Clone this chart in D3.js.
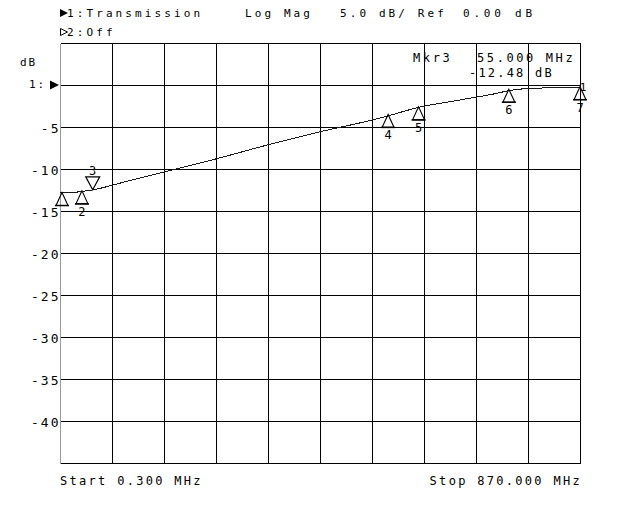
<!DOCTYPE html>
<html>
<head>
<meta charset="utf-8">
<script src="https://cdn.jsdelivr.net/npm/d3@7"></script>
<style>
  html, body { margin: 0; padding: 0; background: #fff; }
  svg { display: block; }
  text { font-family: "DejaVu Sans Mono", "Liberation Mono", monospace; fill: #000; }
</style>
</head>
<body>
<script>
// ---- data ----
const freqMHz = [0.3, 20, 38, 55, 100, 176, 263, 348, 435, 522, 549, 602, 650, 694, 720, 753, 781, 820, 860, 870];
const transDB = [-12.78, -12.74, -12.6, -12.42, -11.62, -10.25, -8.69, -7.05, -5.5, -4.1, -3.6, -2.55, -1.95, -1.4, -1.08, -0.58, -0.36, -0.28, -0.24, -0.28];
const yTickValues = [-5, -10, -15, -20, -25, -30, -35, -40];
const markerIds = ["1", "2", "3", "4", "5", "6", "7"];
const markerFreqs = [0.3, 37, 55, 549, 600, 751, 870];
const markerDB = [-12.8, -12.6, -12.48, -3.5, -2.6, -0.5, -0.2];
const activeMarker = "3";
const startLabel = "Start 0.300 MHz";
const stopLabel = "Stop 870.000 MHz";
const headerTexts = ["1:Transmission", "Log Mag", "5.0 dB/ Ref", "0.00 dB"];
const channel2Text = "2:Off";
const readoutLines = ["Mkr3", "55.000 MHz", "-12.48 dB"];

// ---- layout ----
const W = 640, H = 512;
const svg = d3.select("body").append("svg").attr("width", W).attr("height", H);

const x = d3.scaleLinear().domain([0.3, 870]).range([60, 580]);
const y = d3.scaleLinear().domain([-45, 5]).range([463, 43]);

const g = svg.append("g").attr("transform", "translate(0.5,0.5)");

// grid
const xGrid = d3.range(11).map(i => 0.3 + i * (870 - 0.3) / 10);
const yGrid = d3.range(-45, 5.01, 5);

g.selectAll("line.h").data(yGrid).join("line")
  .attr("x1", x(0.3)).attr("x2", x(870))
  .attr("y1", d => Math.round(y(d))).attr("y2", d => Math.round(y(d)))
  .attr("stroke", "#000").attr("stroke-width", 1).attr("shape-rendering", "crispEdges");

g.selectAll("line.v").data(xGrid).join("line")
  .attr("x1", d => Math.round(x(d))).attr("x2", d => Math.round(x(d)))
  .attr("y1", y(5)).attr("y2", y(-45))
  .attr("stroke", (d, i) => i === 0 ? "#999" : "#000")
  .attr("stroke-width", 1).attr("shape-rendering", "crispEdges");

// trace
const line = d3.line()
  .x((d, i) => x(freqMHz[i]))
  .y((d, i) => y(transDB[i]))
  .curve(d3.curveMonotoneX);
g.append("path").datum(transDB)
  .attr("d", line)
  .attr("fill", "none").attr("stroke", "#1a1a1a").attr("stroke-width", 1)
  .attr("shape-rendering", "crispEdges");

// y tick labels
const yAxis = svg.append("g");
yAxis.selectAll("text").data(yTickValues).join("text")
  .attr("x", 60.5).attr("y", d => y(d) + 5.5)
  .attr("text-anchor", "end")
  .attr("font-size", 13).attr("letter-spacing", 2)
  .text(d => "-" + Math.abs(d));

// "dB" and reference label
svg.append("text").attr("x", 20).attr("y", 66).attr("font-size", 11).attr("letter-spacing", 2).text("dB");
svg.append("text").attr("x", 29).attr("y", 88).attr("font-size", 11).attr("letter-spacing", 2).text("1:");
svg.append("path")
  .attr("d", `M50,${y(0) - 4.5}L59,${y(0)}L50,${y(0) + 4.5}Z`)
  .attr("fill", "#000");

// header
svg.append("path").attr("d", "M60,9L68,13L60,17Z").attr("fill", "#000");
const hdrX = [67, 245, 340, 463];
svg.selectAll("text.hdr").data(headerTexts).join("text")
  .attr("class", "hdr")
  .attr("x", (d, i) => hdrX[i]).attr("y", 17)
  .attr("font-size", 11).attr("letter-spacing", (d, i) => i === 3 ? 3.8 : 3.1)
  .text(d => d);
svg.append("path").attr("d", "M60.5,28.5L67.5,32L60.5,35.5Z").attr("fill", "none").attr("stroke", "#000").attr("stroke-width", 1);
svg.append("text").attr("x", 67).attr("y", 36).attr("font-size", 11).attr("letter-spacing", 3.1).text(channel2Text);

// marker readout
svg.append("text").attr("x", 413).attr("y", 62).attr("font-size", 12).attr("letter-spacing", 2.6).text(readoutLines[0]);
svg.append("text").attr("x", 477).attr("y", 62).attr("font-size", 12).attr("letter-spacing", 2.6).text(readoutLines[1]);
svg.append("text").attr("x", 469).attr("y", 77).attr("font-size", 12).attr("letter-spacing", 2.2).text(readoutLines[2]);

// markers
const mk = svg.append("g");
markerIds.forEach((id, i) => {
  const mx = x(markerFreqs[i]) + (i === 0 ? 2 : 0);
  const my = y(markerDB[i]);
  if (id === activeMarker) {
    mk.append("path")
      .attr("d", `M${mx},${my}L${mx - 7},${my - 13}L${mx + 7},${my - 13}Z`)
      .attr("fill", "none").attr("stroke", "#000").attr("stroke-width", 1.2);
    mk.append("text").attr("x", mx).attr("y", my - 15)
      .attr("text-anchor", "middle").attr("font-size", 12).text(id);
  } else {
    mk.append("path")
      .attr("d", `M${mx},${my}L${mx - 6},${my + 13}L${mx + 6},${my + 13}Z`)
      .attr("fill", "none").attr("stroke", "#000").attr("stroke-width", 1.1);
    mk.append("line")
      .attr("x1", mx - 7).attr("x2", mx + 7).attr("y1", my + 13).attr("y2", my + 13)
      .attr("stroke", "#000").attr("stroke-width", 1.5);
    if (id !== "1") {
      mk.append("text").attr("x", mx).attr("y", my + 25)
        .attr("text-anchor", "middle").attr("font-size", 12).text(id);
    }
  }
});
// marker 1 label at stop end (overlapping marker 7)
svg.append("text").attr("x", x(870) + 3).attr("y", y(markerDB[6]) + 4)
  .attr("text-anchor", "middle").attr("font-size", 11).text(markerIds[0]);

// start/stop labels
svg.append("text").attr("x", 60).attr("y", 485).attr("font-size", 12).attr("letter-spacing", 2.3).text(startLabel);
svg.append("text").attr("x", 582).attr("y", 485).attr("text-anchor", "end").attr("font-size", 12).attr("letter-spacing", 2.3).text(stopLabel);
</script>
</body>
</html>
